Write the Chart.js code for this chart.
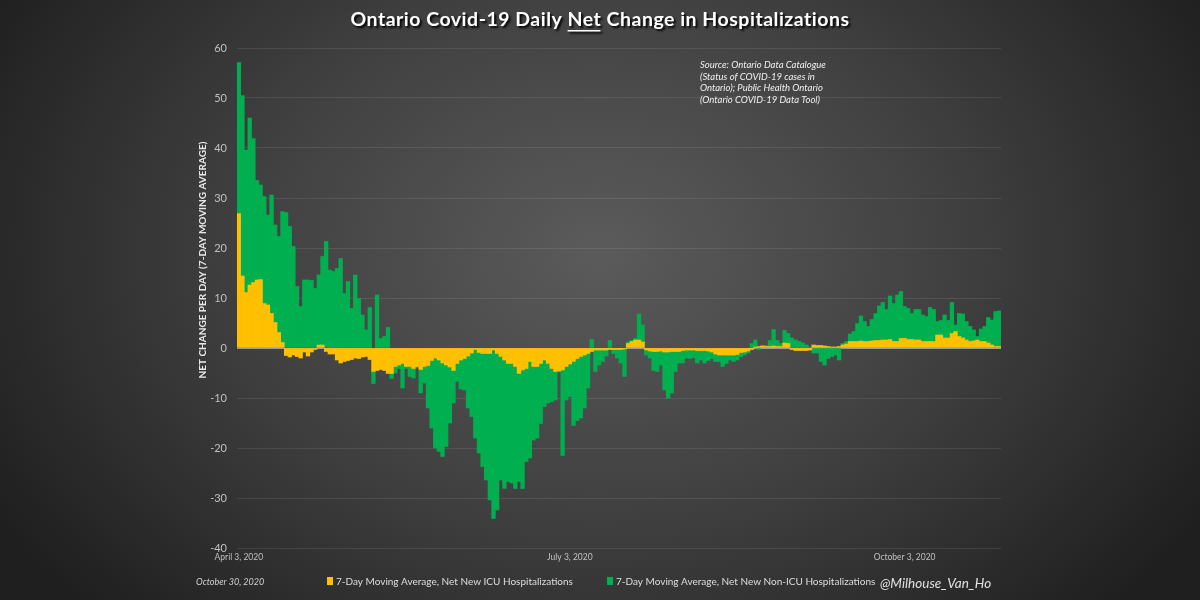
<!DOCTYPE html>
<html>
<head>
<meta charset="utf-8">
<script src="https://cdn.jsdelivr.net/npm/chart.js@4.4.0/dist/chart.umd.min.js"></script>
<style>
  html, body { margin: 0; padding: 0; background: #262626; }
</style>
</head>
<body>
<canvas id="hosp-net" width="1200" height="600"></canvas>
<script>
/* Ontario daily net change in hospitalizations, 7-day moving averages */
const startDate = [2020, 3, 3]; // April 3, 2020
const dayCount = 210;
const monthNames = ['January','February','March','April','May','June','July',
  'August','September','October','November','December'];
const tickDates = ['April 3, 2020', 'July 3, 2020', 'October 3, 2020'];

const icuValues = [
  26.9, 14.4, 11.1, 12.6, 13.1, 13.6, 13.7, 8.9, 8.6, 6.9,
  5.1, 3.1, 1.1, -1.5, -1.8, -1.4, -1.7, -2.0, -0.8, -1.6,
  -0.8, -0.3, 0.6, 0.6, -0.7, -1.2, -1.2, -2.4, -3.0, -2.7,
  -2.5, -2.3, -2.0, -2.1, -1.8, -1.7, -2.3, -4.7, -4.5, -4.3,
  -4.5, -5.1, -5.1, -3.7, -3.4, -3.1, -3.7, -3.7, -4.1, -3.7,
  -4.3, -3.7, -3.5, -2.5, -2.0, -2.4, -3.0, -3.4, -3.8, -4.5,
  -3.1, -2.4, -2.1, -1.6, -1.0, -0.3, -0.9, -1.1, -1.1, -1.1,
  -0.4, -1.1, -1.7, -2.4, -3.1, -3.1, -3.7, -5.1, -4.4, -4.1,
  -2.7, -3.7, -3.7, -3.1, -2.4, -3.1, -4.1, -4.7, -4.6, -4.4,
  -3.7, -3.2, -2.7, -2.1, -1.7, -1.4, -1.1, -0.7, -0.4, -0.4,
  -0.4, -0.4, -0.3, -0.3, -0.3, -0.3, -0.2, 0.9, 1.3, 1.6,
  1.6, 1.2, -0.4, -0.6, -0.7, -0.7, -0.6, -0.8, -0.8, -0.7,
  -0.7, -0.7, -0.5, -0.4, -0.4, -0.4, -0.5, -0.5, -0.5, -0.6,
  -0.8, -1.2, -1.4, -1.4, -1.4, -1.4, -1.4, -1.3, -0.9, -0.8,
  -0.6, -0.3, 0.2, 0.3, 0.4, 0.3, 0.3, 0.4, 0.3, 0.3,
  1.0, 0.9, -0.3, -0.5, -0.5, -0.5, -0.5, -0.4, 0.6, 0.5,
  0.5, 0.4, 0.3, 0.2, 0.2, 0.3, 0.6, 0.8, 1.3, 1.3,
  1.3, 1.4, 1.3, 1.3, 1.4, 1.5, 1.5, 1.6, 1.6, 1.7,
  1.3, 1.3, 1.9, 1.9, 1.7, 1.7, 1.6, 1.6, 1.3, 1.3,
  1.3, 1.3, 2.6, 2.6, 2.0, 2.0, 2.9, 3.3, 2.3, 2.0,
  1.6, 1.3, 1.4, 1.6, 1.3, 1.3, 1.0, 0.6, 0.3, 0.3
];

const nonIcuValues = [
  30.2, 36.1, 28.5, 33.4, 28.8, 19.9, 18.9, 21.4, 18.0, 23.7,
  19.5, 19.2, 26.2, 27.1, 24.3, 20.3, 12.3, 8.3, 13.6, 13.6,
  13.5, 11.9, 14.0, 17.7, 21.3, 15.6, 15.3, 15.9, 17.9, 10.9,
  13.3, 7.9, 14.6, 9.9, 6.6, 3.6, 8.1, -2.4, 10.6, 1.9,
  2.3, 4.1, -1.0, -1.3, -0.7, -4.9, -0.4, -2.0, -1.9, -0.3,
  -4.7, -3.3, -8.5, -13.5, -18.0, -18.3, -18.7, -16.3, -11.2, -6.5,
  -3.6, -5.8, -6.3, -10.4, -12.7, -17.7, -20.1, -22.6, -25.3, -29.3,
  -33.7, -31.3, -24.7, -25.7, -23.6, -23.9, -24.4, -21.6, -23.7, -18.6,
  -19.3, -14.7, -14.3, -12.0, -9.3, -7.9, -6.6, -5.7, -0.2, -17.1,
  -6.7, -6.5, -12.8, -12.4, -12.3, -10.6, -6.9, 1.7, -4.3, -3.0,
  -2.3, -1.2, 1.5, -0.8, -1.7, -2.7, -5.5, 0.3, 0.2, 0.3,
  5.2, 3.4, -1.0, -1.4, -3.8, -4.0, -2.8, -7.6, -9.2, -8.3,
  -4.0, -2.3, -2.5, -1.6, -1.7, -1.5, -2.5, -1.9, -2.5, -1.9,
  -1.3, -1.5, -1.3, -2.3, -1.7, -1.0, -1.3, -1.1, -0.8, -0.6,
  -0.4, 0.9, 1.4, -0.3, 0.1, 0.2, 1.2, 3.3, 1.2, 0.6,
  2.5, 2.0, 2.0, 1.6, 1.3, 1.0, 0.6, 0.2, -1.0, -1.0,
  -2.7, -3.4, -2.1, -1.7, -1.4, -2.4, 0.3, 0.5, 1.5, 2.0,
  3.6, 5.0, 4.0, 3.0, 4.3, 5.4, 6.9, 7.5, 6.1, 8.7,
  7.6, 9.3, 9.4, 6.4, 6.2, 5.2, 6.1, 6.1, 5.3, 5.0,
  6.8, 6.4, 2.7, 2.9, 4.6, 3.5, 6.2, 1.3, 4.6, 4.8,
  3.7, 3.0, 2.2, 0.7, 2.5, 3.0, 5.1, 5.0, 7.0, 7.1
];

const sourceLines = [
  'Source: Ontario Data Catalogue',
  '(Status of COVID-19 cases in',
  'Ontario); Public Health Ontario',
  '(Ontario COVID-19 Data Tool)'
];

// one label per day
const dayLabels = [];
for (let i = 0; i < dayCount; i++) {
  const d = new Date(Date.UTC(startDate[0], startDate[1], startDate[2] + i));
  dayLabels.push(monthNames[d.getUTCMonth()] + ' ' + d.getUTCDate() + ', ' + d.getUTCFullYear());
}

const FONT = 'Lato, "Open Sans", sans-serif';

const backdrop = {
  id: 'backdrop',
  beforeDraw(chart) {
    const c = chart.ctx;
    c.save();
    c.translate(600, 250);
    c.scale(1.35, 1);
    const g = c.createRadialGradient(0, 0, 10, 0, 0, 520);
    g.addColorStop(0, '#5a5a5a');
    g.addColorStop(0.5, '#404040');
    g.addColorStop(1, '#1f1f1f');
    c.fillStyle = g;
    c.fillRect(-600, -400, 1200, 900);
    c.restore();
  }
};

const decorations = {
  id: 'decorations',
  afterDraw(chart) {
    const c = chart.ctx;
    c.save();

    // title with underlined "Net"
    const parts = ['Ontario Covid-19 Daily ', 'Net', ' Change in Hospitalizations'];
    c.font = 'bold 19.5px ' + FONT;
    c.letterSpacing = '0.5px';
    c.textBaseline = 'middle';
    c.textAlign = 'left';
    const w = parts.map(p => c.measureText(p).width);
    const tx = 600 - (w[0] + w[1] + w[2]) / 2;
    c.shadowColor = 'rgba(0,0,0,0.9)';
    c.shadowOffsetX = 2;
    c.shadowOffsetY = 2;
    c.shadowBlur = 2;
    c.fillStyle = '#ffffff';
    c.fillText(parts.join(''), tx, 20);
    c.fillRect(tx + w[0], 30, w[1] - 1, 1.5);
    c.shadowColor = 'transparent';
    c.letterSpacing = '0px';

    // source note
    c.font = 'italic 9.5px ' + FONT;
    c.fillStyle = '#f0f0f0';
    sourceLines.forEach((line, k) => c.fillText(line, 700, 65 + k * 11.7));

    // y axis title
    c.save();
    c.translate(203, 260);
    c.rotate(-Math.PI / 2);
    c.textAlign = 'center';
    c.font = 'bold 10px ' + FONT;
    c.fillStyle = '#e8e8e8';
    c.fillText('NET CHANGE PER DAY (7-DAY MOVING AVERAGE)', 0, 0);
    c.restore();

    // footer: date, legend, handle
    c.font = 'italic 9px ' + FONT;
    c.fillStyle = '#d0d0d0';
    c.fillText('October 30, 2020', 196, 582);

    const ds = chart.data.datasets;
    const legendX = [327, 607];
    c.font = '10px ' + FONT;
    ds.forEach((set, k) => {
      c.fillStyle = set.backgroundColor;
      c.fillRect(legendX[k], 577, 6, 8);
      c.fillStyle = '#dedede';
      c.fillText(set.label, legendX[k] + 9, 581.5);
    });

    c.font = 'italic 13.5px ' + FONT;
    c.fillStyle = '#e0e0e0';
    c.fillText('@Milhouse_Van_Ho', 880, 584);

    c.restore();
  }
};

new Chart(document.getElementById('hosp-net'), {
  type: 'bar',
  data: {
    labels: dayLabels,
    datasets: [{
      label: '7-Day Moving Average, Net New ICU Hospitalizations',
      data: icuValues,
      backgroundColor: '#FFC000',
      borderWidth: 0,
      categoryPercentage: 1,
      barPercentage: 1
    }, {
      label: '7-Day Moving Average, Net New Non-ICU Hospitalizations',
      data: nonIcuValues,
      backgroundColor: '#00B050',
      borderWidth: 0,
      categoryPercentage: 1,
      barPercentage: 1
    }]
  },
  options: {
    responsive: false,
    animation: false,
    devicePixelRatio: 1,
    layout: { padding: { left: 195, right: 199, top: 48, bottom: 0 } },
    plugins: {
      legend: { display: false },
      tooltip: { enabled: false }
    },
    scales: {
      x: {
        stacked: true,
        grid: { display: false, drawTicks: false },
        border: { display: false },
        ticks: {
          autoSkip: false,
          maxRotation: 0,
          minRotation: 0,
          padding: 4,
          color: '#c0c0c0',
          font: { family: FONT, size: 8.5 },
          callback: function(value) {
            const lbl = this.getLabelForValue(value);
            return tickDates.includes(lbl) ? lbl : null;
          }
        },
        afterFit(scale) { scale.height = 52; }
      },
      y: {
        stacked: true,
        min: -40,
        max: 60,
        border: { display: false },
        grid: {
          drawTicks: false,
          color: ctx => (ctx.tick && ctx.tick.value === 0) ? '#9c9c9c' : 'rgba(255,255,255,0.09)',
          lineWidth: 1
        },
        ticks: {
          stepSize: 10,
          padding: 10,
          color: '#c0c0c0',
          font: { family: FONT, size: 11 }
        },
        afterFit(scale) { scale.width = 42; }
      }
    }
  },
  plugins: [backdrop, decorations]
});
</script>
</body>
</html>
